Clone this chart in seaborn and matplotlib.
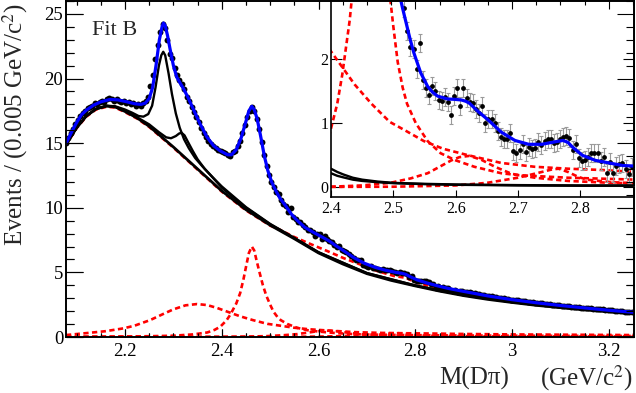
import numpy as np
import matplotlib
matplotlib.use("Agg")
import matplotlib.pyplot as plt
from matplotlib.ticker import MultipleLocator, FuncFormatter
import seaborn as sns

# ---- data: events per 0.005 GeV bin, first bin centre at 2.0775 ----
bin_start = 2.0775
bin_width = 0.005
main_counts = [
    15.0, 15.4, 15.8, 16.1, 16.5, 16.8, 17.1, 17.3, 17.5, 17.7,
    17.8, 17.9, 18.1, 18.0, 18.2, 18.3, 18.2, 18.4, 18.5, 18.4,
    18.3, 18.4, 18.3, 18.2, 18.3, 18.1, 18.2, 18.0, 18.1, 17.9,
    18.0, 17.9, 18.1, 18.3, 18.6, 19.4, 20.3, 21.5, 22.6, 23.6,
    24.2, 23.9, 23.0, 21.9, 21.6, 20.8, 20.3, 19.9, 19.6, 19.2,
    18.6, 18.3, 17.8, 17.4, 17.0, 16.6, 16.2, 15.8, 15.5, 15.2,
    14.9, 14.8, 14.6, 14.5, 14.4, 14.3, 14.2, 14.1, 14.0, 14.3,
    14.4, 14.8, 15.2, 15.8, 16.4, 17.0, 17.5, 17.8, 17.5, 16.9,
    16.1, 15.1, 14.1, 13.2, 12.5, 12.0, 11.6, 11.2,
    11.1, 10.6, 10.3, 10.1, 9.7, 10.0, 9.3, 9.1, 8.9, 8.9,
    8.7, 8.5, 8.3, 8.3, 8.1, 7.8, 8.0, 8.0, 7.6, 7.8,
    7.6, 7.45, 7.35, 7.15, 7.0, 7.05, 6.7, 6.65, 6.6, 6.45,
    6.25, 6.1, 5.98, 5.92, 5.93, 5.57, 5.47, 5.45, 5.49, 5.32,
    5.35, 5.26, 5.22, 5.27, 5.17, 5.18, 5.16, 5.1, 5.01, 4.99,
    5.0, 4.98, 4.95, 4.88, 4.64, 4.69, 4.42, 4.34, 4.32, 4.33,
    4.34, 4.31, 4.26, 4.1, 4.12, 3.83, 3.97, 3.75, 3.84, 3.82,
    3.81, 3.67, 3.57, 3.64, 3.45,
    3.57, 3.55, 3.52, 3.47, 3.46, 3.41, 3.38, 3.36, 3.30, 3.28,
    3.24, 3.20, 3.17, 3.15, 3.10, 3.09, 3.05, 3.01, 2.99, 2.96,
    2.93, 2.90, 2.88, 2.86, 2.83, 2.82, 2.78, 2.76, 2.73, 2.71,
    2.69, 2.66, 2.65, 2.62, 2.60, 2.57, 2.55, 2.54, 2.51, 2.50,
    2.47, 2.45, 2.43, 2.42, 2.39, 2.37, 2.36, 2.34, 2.31, 2.30,
    2.28, 2.26, 2.25, 2.23, 2.21, 2.20, 2.18, 2.16, 2.14, 2.13,
    2.11, 2.09, 2.07, 2.06, 2.04, 2.02, 2.01, 1.99, 1.97, 1.96,
    1.94, 1.92,
]

# background-subtracted data shown in the inset
inset_start = 2.5175
inset_counts = [
    2.79, 2.44, 2.19, 2.16, 1.84, 2.24, 1.67, 1.54, 1.44, 1.58,
    1.50, 1.36, 1.34, 1.41, 1.33, 1.12, 1.42, 1.55, 1.27, 1.54,
    1.39, 1.33, 1.32, 1.22, 1.16, 1.27, 1.00, 1.06, 1.07, 1.00,
    0.875, 0.79, 0.745, 0.76, 0.84, 0.56, 0.53, 0.58, 0.67, 0.55,
    0.63, 0.59, 0.61, 0.71, 0.66, 0.72, 0.75, 0.745, 0.69, 0.71,
    0.76, 0.79, 0.80, 0.77, 0.58, 0.67, 0.45, 0.41, 0.43, 0.48,
    0.53, 0.54, 0.53, 0.41, 0.47, 0.22, 0.40, 0.22, 0.34, 0.36,
    0.38, 0.28, 0.21, 0.32, 0.16,
]
inset_err = 0.14

# ---- fit curves, (mass, events) ----
total_fit = [
    (2.078, 14.98), (2.09, 15.9), (2.10, 16.6), (2.11, 17.2), (2.12, 17.55),
    (2.135, 17.94), (2.15, 18.2), (2.169, 18.38), (2.185, 18.35), (2.204, 18.2),
    (2.22, 18.05), (2.233, 18.0), (2.242, 18.1), (2.25, 18.45), (2.257, 19.3),
    (2.264, 21.0), (2.271, 23.0), (2.2765, 24.0), (2.2795, 24.3), (2.283, 24.1),
    (2.288, 23.3), (2.293, 22.3), (2.30, 21.0), (2.307, 20.1), (2.314, 19.65),
    (2.321, 19.2), (2.33, 18.55), (2.342, 17.56), (2.355, 16.5), (2.369, 15.49),
    (2.383, 14.8), (2.397, 14.4), (2.412, 14.1), (2.42, 14.1), (2.43, 14.5),
    (2.44, 15.4), (2.45, 16.7), (2.456, 17.5), (2.462, 17.85), (2.467, 17.6),
    (2.473, 16.9), (2.48, 15.6), (2.488, 14.0), (2.495, 12.9), (2.503, 12.0),
    (2.512, 11.3), (2.52, 10.75), (2.533, 10.1), (2.544, 9.5), (2.555, 9.05),
    (2.571, 8.5), (2.587, 8.15), (2.609, 7.7), (2.622, 7.43), (2.636, 7.06),
    (2.652, 6.67), (2.673, 6.14), (2.695, 5.7), (2.717, 5.39), (2.738, 5.17),
    (2.76, 5.0), (2.772, 4.93), (2.78, 4.85), (2.787, 4.71), (2.803, 4.43),
    (2.824, 4.18), (2.846, 3.96), (2.868, 3.76), (2.89, 3.6), (2.95, 3.18),
    (3.0, 2.89), (3.05, 2.65), (3.1, 2.44), (3.15, 2.25), (3.2, 2.07), (3.255, 1.9),
]
background = [
    (2.078, 14.9), (2.10, 16.2), (2.12, 17.1), (2.14, 17.65), (2.162, 17.87),
    (2.18, 17.8), (2.20, 17.45), (2.225, 16.95), (2.25, 16.3), (2.275, 15.5),
    (2.30, 14.7), (2.325, 13.85), (2.35, 13.0), (2.375, 12.15), (2.40, 11.3),
    (2.45, 9.85), (2.50, 8.65), (2.55, 7.6), (2.60, 6.5), (2.65, 5.65),
    (2.70, 4.9), (2.75, 4.38), (2.80, 3.95), (2.85, 3.55), (2.90, 3.2),
    (2.95, 2.91), (3.00, 2.67), (3.05, 2.45), (3.10, 2.27), (3.15, 2.1),
    (3.20, 1.95), (3.255, 1.8),
]
feed_down_1 = [
    (2.078, 14.9), (2.10, 16.2), (2.12, 17.1), (2.14, 17.65), (2.162, 17.9),
    (2.18, 17.85), (2.20, 17.6), (2.215, 17.35), (2.228, 17.1), (2.238, 17.05),
    (2.248, 17.25), (2.256, 17.9), (2.263, 19.3), (2.27, 21.0), (2.275, 21.8),
    (2.279, 22.07), (2.283, 21.8), (2.29, 20.4), (2.297, 18.8), (2.305, 17.3),
    (2.313, 16.2), (2.322, 15.3), (2.332, 14.6), (2.345, 13.85), (2.36, 13.2),
    (2.38, 12.4), (2.40, 11.65), (2.45, 10.05), (2.50, 8.75), (2.55, 7.67),
    (2.60, 6.56), (2.70, 4.95), (2.80, 3.99), (2.90, 3.24), (3.0, 2.71),
    (3.1, 2.31), (3.255, 1.84),
]
feed_down_2 = [
    (2.078, 14.9), (2.10, 16.2), (2.12, 17.1), (2.14, 17.65), (2.162, 17.88),
    (2.18, 17.8), (2.20, 17.5), (2.225, 17.0), (2.25, 16.45), (2.27, 15.85),
    (2.285, 15.45), (2.295, 15.38), (2.305, 15.55), (2.312, 15.75), (2.317, 15.8),
    (2.323, 15.6), (2.33, 15.1), (2.34, 14.4), (2.35, 13.75), (2.365, 13.0),
    (2.38, 12.4), (2.40, 11.55), (2.45, 10.0), (2.50, 8.72), (2.55, 7.65),
    (2.60, 6.55), (2.70, 4.94), (2.80, 3.98), (2.90, 3.23), (3.0, 2.7),
    (3.1, 2.3), (3.255, 1.83),
]
bkg_plus_d2600 = [
    (2.078, 14.85), (2.10, 16.15), (2.12, 17.05), (2.14, 17.6), (2.162, 17.82),
    (2.18, 17.75), (2.20, 17.4), (2.225, 16.9), (2.25, 16.25), (2.275, 15.45),
    (2.30, 14.65), (2.325, 13.8), (2.35, 12.95), (2.40, 11.25), (2.45, 9.8),
    (2.50, 8.62), (2.52, 8.3), (2.549, 7.75), (2.583, 7.2), (2.618, 6.65),
    (2.652, 6.1), (2.687, 5.6), (2.72, 5.12), (2.756, 4.72), (2.78, 4.58),
    (2.803, 4.2), (2.83, 3.95), (2.851, 3.78), (2.9, 3.42), (2.95, 3.08),
    (3.0, 2.8), (3.1, 2.36), (3.2, 2.0), (3.255, 1.85),
]
narrow_2460 = [
    (2.078, 0.02), (2.16, 0.03), (2.25, 0.06), (2.30, 0.1), (2.34, 0.2),
    (2.37, 0.35), (2.385, 0.55), (2.397, 0.8), (2.41, 1.3), (2.418, 1.75),
    (2.43, 2.6), (2.438, 3.4), (2.445, 4.5), (2.451, 5.6), (2.456, 6.5),
    (2.462, 7.0), (2.467, 6.7), (2.472, 5.9), (2.478, 5.0), (2.485, 4.0),
    (2.492, 3.2), (2.50, 2.5), (2.507, 1.95), (2.515, 1.55), (2.522, 1.3),
    (2.536, 1.0), (2.555, 0.72), (2.576, 0.53), (2.60, 0.42), (2.63, 0.32),
    (2.673, 0.22), (2.70, 0.19), (2.78, 0.15), (2.89, 0.12), (3.0, 0.1),
    (3.1, 0.09), (3.255, 0.08),
]
broad_2400 = [
    (2.078, 0.15), (2.12, 0.3), (2.16, 0.45), (2.197, 0.67), (2.22, 0.88),
    (2.252, 1.31), (2.28, 1.8), (2.30, 2.14), (2.325, 2.45), (2.349, 2.55),
    (2.37, 2.47), (2.39, 2.25), (2.41, 1.98), (2.438, 1.6), (2.465, 1.3),
    (2.494, 1.02), (2.52, 0.88), (2.549, 0.72), (2.58, 0.6), (2.62, 0.5),
    (2.673, 0.38), (2.727, 0.32), (2.781, 0.29), (2.835, 0.27), (2.889, 0.24),
    (3.0, 0.2), (3.1, 0.18), (3.255, 0.15),
]
bump_2600 = [
    (2.078, 0.0), (2.40, 0.01), (2.45, 0.03), (2.495, 0.07), (2.528, 0.14),
    (2.555, 0.22), (2.576, 0.33), (2.593, 0.42), (2.606, 0.47), (2.622, 0.49),
    (2.641, 0.43), (2.663, 0.32), (2.69, 0.21), (2.727, 0.15), (2.78, 0.1),
    (2.85, 0.07), (2.95, 0.05), (3.255, 0.03),
]
bump_2750 = [
    (2.078, 0.0), (2.50, 0.01), (2.60, 0.03), (2.65, 0.07), (2.70, 0.15),
    (2.73, 0.22), (2.755, 0.28), (2.765, 0.29), (2.78, 0.24), (2.795, 0.17),
    (2.81, 0.12), (2.85, 0.08), (2.90, 0.06), (3.0, 0.05), (3.255, 0.03),
]
# inset versions (background subtracted)
inset_total = [
    (2.505, 3.3), (2.511, 2.95), (2.515, 2.78), (2.520, 2.58), (2.527, 2.3),
    (2.533, 2.09), (2.544, 1.78), (2.555, 1.57), (2.563, 1.48), (2.571, 1.42),
    (2.587, 1.375), (2.598, 1.37), (2.609, 1.36), (2.616, 1.34), (2.622, 1.31),
    (2.636, 1.18), (2.652, 1.05), (2.673, 0.86), (2.695, 0.73), (2.717, 0.67),
    (2.738, 0.67), (2.76, 0.71), (2.772, 0.73), (2.78, 0.70), (2.787, 0.63),
    (2.803, 0.5), (2.824, 0.42), (2.846, 0.38), (2.868, 0.34), (2.89, 0.33),
]
inset_feed_1 = [
    (2.40, 0.29), (2.41, 0.24), (2.42, 0.2), (2.435, 0.15), (2.45, 0.12),
    (2.475, 0.09), (2.50, 0.07), (2.55, 0.055), (2.60, 0.045), (2.70, 0.035),
    (2.80, 0.03), (2.89, 0.03),
]
inset_feed_2 = [
    (2.40, 0.22), (2.41, 0.18), (2.42, 0.155), (2.435, 0.12), (2.45, 0.1),
    (2.475, 0.08), (2.50, 0.065), (2.55, 0.05), (2.60, 0.04), (2.70, 0.03),
    (2.80, 0.025), (2.89, 0.025),
]

sns.set_style("ticks", {"xtick.direction": "in", "ytick.direction": "in"})
plt.rcParams["font.family"] = ["Liberation Serif", "DejaVu Serif"]
plt.rcParams["mathtext.fontset"] = "stix"

BLUE = "#0000ff"
RED = "#ff0000"
DASH = (0, (2.0, 1.3))


def curve(ax, pts, color, lw, ls="-", z=3):
    xy = np.array(pts)
    sns.lineplot(x=xy[:, 0], y=xy[:, 1], ax=ax, color=color, lw=lw,
                 linestyle=ls, zorder=z, sort=False, estimator=None,
                 legend=False)


def main_ticks(a, labels=True):
    a.set_xlim(2.078, 3.252)
    a.set_ylim(0, 26)
    a.xaxis.set_major_locator(MultipleLocator(0.2))
    a.xaxis.set_minor_locator(MultipleLocator(0.05))
    a.yaxis.set_major_locator(MultipleLocator(5))
    a.yaxis.set_minor_locator(MultipleLocator(1))
    a.xaxis.set_major_formatter(FuncFormatter(lambda v, p: f"{v:g}"))
    a.yaxis.set_major_formatter(FuncFormatter(lambda v, p: f"{v:g}"))
    a.tick_params(which="both", direction="in", top=True, right=True,
                  width=0.8, labelsize=13.5, colors="black")
    a.tick_params(axis="y", which="major", length=12, pad=2)
    a.tick_params(axis="y", which="minor", length=6)
    a.tick_params(axis="x", which="major", length=6, pad=4)
    a.tick_params(axis="x", which="minor", length=3)
    if not labels:
        a.tick_params(labelbottom=False, labelleft=False)
    for s in a.spines.values():
        s.set_linewidth(1.2)
        s.set_color("black")
    a.set_xlabel("")
    a.set_ylabel("")


fig = plt.figure(figsize=(6.36, 3.93), dpi=100)
main_pos = [66 / 636, 1 - 337 / 393, 568 / 636, 336 / 393]
ax = fig.add_axes(main_pos)

# components near zero
for comp in [broad_2400, narrow_2460, bump_2600, bump_2750]:
    curve(ax, comp, RED, 1.9, DASH, 2)
curve(ax, bkg_plus_d2600, RED, 1.9, DASH, 2)
# background and feed-down shapes
curve(ax, background, "black", 2.0, "-", 3)
curve(ax, feed_down_2, "black", 1.7, "-", 3)
curve(ax, feed_down_1, "black", 1.7, "-", 3)

mx = bin_start + bin_width * np.arange(len(main_counts))
sns.scatterplot(x=mx, y=main_counts, ax=ax, color="black", s=18,
                linewidth=0, zorder=4, legend=False)
curve(ax, total_fit, BLUE, 2.3, "-", 5)
main_ticks(ax)
ax.text(0.046, 0.899, "Fit B", transform=ax.transAxes, fontsize=16,
        va="baseline", ha="left")

# ---- inset ----
ins = fig.add_axes([331 / 636, 1 - 197 / 393, 303 / 636, 196 / 393])
ins.set_facecolor("white")
for comp in [broad_2400, narrow_2460, bump_2600, bump_2750]:
    curve(ins, comp, RED, 1.9, DASH, 2)
curve(ins, inset_feed_2, "black", 1.7, "-", 3)
curve(ins, inset_feed_1, "black", 1.7, "-", 3)
ix = inset_start + bin_width * np.arange(len(inset_counts))
ins.errorbar(ix, inset_counts, yerr=inset_err, fmt="none", ecolor="#9a9a9a",
             elinewidth=0.8, capsize=1.5, capthick=0.8, zorder=4)
sns.scatterplot(x=ix, y=inset_counts, ax=ins, color="black", s=12,
                linewidth=0, zorder=5, legend=False)
curve(ins, inset_total, BLUE, 2.3, "-", 6)
ins.set_xlim(2.4, 2.886)
ins.set_ylim(-0.15, 2.9)
ins.xaxis.set_major_locator(MultipleLocator(0.1))
ins.yaxis.set_major_locator(MultipleLocator(1))
ins.xaxis.set_major_formatter(FuncFormatter(lambda v, p: f"{v:g}"))
ins.yaxis.set_major_formatter(FuncFormatter(lambda v, p: f"{v:g}"))
ins.tick_params(which="major", direction="in", right=True, width=0.8,
                labelsize=11.5, colors="black")
ins.tick_params(axis="y", length=8, pad=2)
ins.tick_params(axis="x", length=5, pad=3)
for s in ins.spines.values():
    s.set_linewidth(1.2)
    s.set_color("black")
ins.set_xlabel("")
ins.set_ylabel("")

# main frame ticks drawn over the inset
over = fig.add_axes(main_pos, facecolor="none")
main_ticks(over, labels=False)
over.set_zorder(10)

fig.text(15 / 636, 1 - 124 / 393, "Events / (0.005 GeV/c$^{2}$)",
         rotation=90, ha="center", va="center", fontsize=18)
fig.text(474 / 636, 1 - 378 / 393, "M(D\u03c0)", ha="center", va="center",
         fontsize=18)
fig.text(633 / 636, 1 - 378 / 393, "(GeV/c$^{2}$)", ha="right", va="center",
         fontsize=18)

fig.savefig("out.png", dpi=100)
